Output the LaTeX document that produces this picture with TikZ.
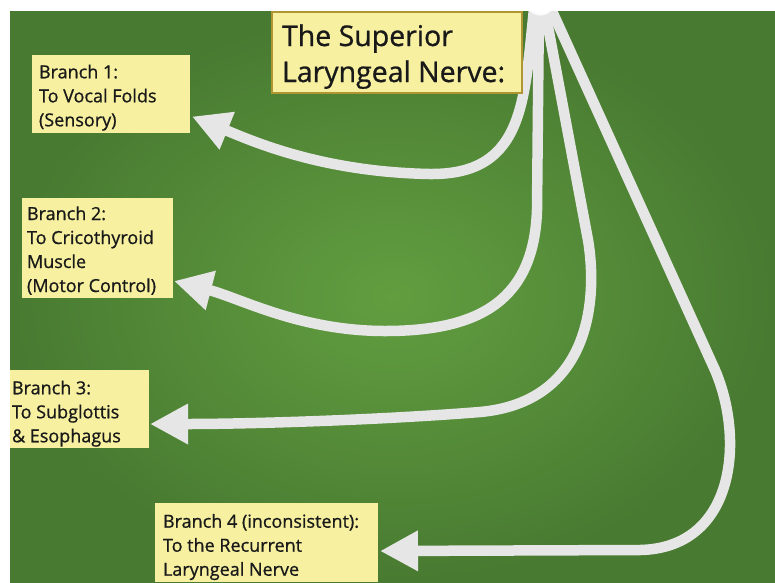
\documentclass[tikz,border=0pt]{standalone}
\usepackage{fontspec}
\setmainfont{Open Sans}[FakeBold=0.8]
\usetikzlibrary{arrows.meta,fadings,calc}
\definecolor{bgin}{RGB}{98,158,64}
\definecolor{bgout}{RGB}{72,122,49}
\definecolor{boxfill}{RGB}{246,240,160}
\definecolor{boxedge}{RGB}{176,150,50}
\definecolor{nervecol}{RGB}{230,230,230}
\definecolor{txt}{RGB}{25,25,25}
\newcommand{\mybt}[4]{\parbox[t][#2][t]{#1}{\raggedright\rule{0pt}{#3}#4}}
\pgfdeclarelayer{back}
\pgfsetlayers{back,main}
\tikzset{
  infobox/.style={fill=boxfill, anchor=north west, inner ysep=0pt, outer sep=0pt,
    text=txt, font=\fontsize{18}{24}\selectfont},
  titlebox/.style={fill=boxfill, draw=boxedge, line width=2pt, anchor=north west,
    inner ysep=0pt, inner xsep=10pt, outer sep=0pt, text=txt, font=\fontsize{28.5}{36}\selectfont},
  nerve/.style={draw=nervecol, line width=10.5pt, -{Triangle[length=38pt,width=38pt]}}
}
\begin{document}
\begin{tikzpicture}[x=1pt,y=-1pt]
\useasboundingbox (0,0) rectangle (775,582);
% boxes
\node[titlebox] (title) at (272,12) {\mybt{230pt}{81pt}{34pt}{The Superior\\Laryngeal Nerve:}};
\node[infobox, inner xsep=7pt] (b1) at (32,55) {\mybt{144pt}{78pt}{23.3pt}{Branch 1:\\To Vocal Folds\\(Sensory)}};
\node[infobox, inner xsep=5pt] (b2) at (22,198) {\mybt{141pt}{100pt}{22pt}{Branch 2:\\To Cricothyroid\\Muscle\\(Motor Control)}};
\node[infobox, inner xsep=2pt] (b3) at (10,370) {\mybt{135pt}{78pt}{24.3pt}{Branch 3:\\To Subglottis\\\& Esophagus}};
\node[infobox, inner xsep=8pt] (b4) at (155,503) {\mybt{207pt}{79pt}{24.7pt}{Branch 4 (inconsistent):\\To the Recurrent\\Laryngeal Nerve}};
\coordinate (apex) at (540,0);
\coordinate (s1) at ([xshift=-5pt]apex);
\coordinate (s2) at ([xshift=-1pt]apex);
\coordinate (s3) at ([xshift=3pt]apex);
\coordinate (s4) at ([xshift=7pt]apex);
\coordinate (t1) at ([xshift=2pt,yshift=-22.5pt]b1.east);
\coordinate (t2) at ([xshift=1pt,yshift=-33pt]b2.east);
\coordinate (t3) at ([xshift=1pt,yshift=-15pt]b3.east);
\coordinate (t4) at ([xshift=2pt,yshift=-8.5pt]b4.east);
\begin{pgfonlayer}{back}
\fill[white] (0,0) rectangle (775,582);
\shade[inner color=bgin, outer color=bgout] (10,11) rectangle (775,582);
\begin{scope}
\clip (10,11) rectangle (775,582);
\draw[nerve] (s1) .. controls (524,95) and (528,175) .. (430,174)
   .. controls (320,172) and (250,140) .. (t1);
\draw[nerve] (s2) -- (537,210) .. controls (534,300) and (480,331) .. (385,331)
   .. controls (300,331) and (240,298) .. (t2);
\draw[nerve] (s3) -- (588,240) .. controls (598,300) and (590,402) .. (480,412)
   .. controls (380,420) and (250,424) .. (t3);
\draw[nerve] (s4) -- (715,370) .. controls (745,440) and (735,548) .. (640,550) -- (t4);
\fill[white, path fading=circle with fuzzy edge 15 percent] (apex) circle[radius=16];
\end{scope}
\end{pgfonlayer}
\end{tikzpicture}
\end{document}
